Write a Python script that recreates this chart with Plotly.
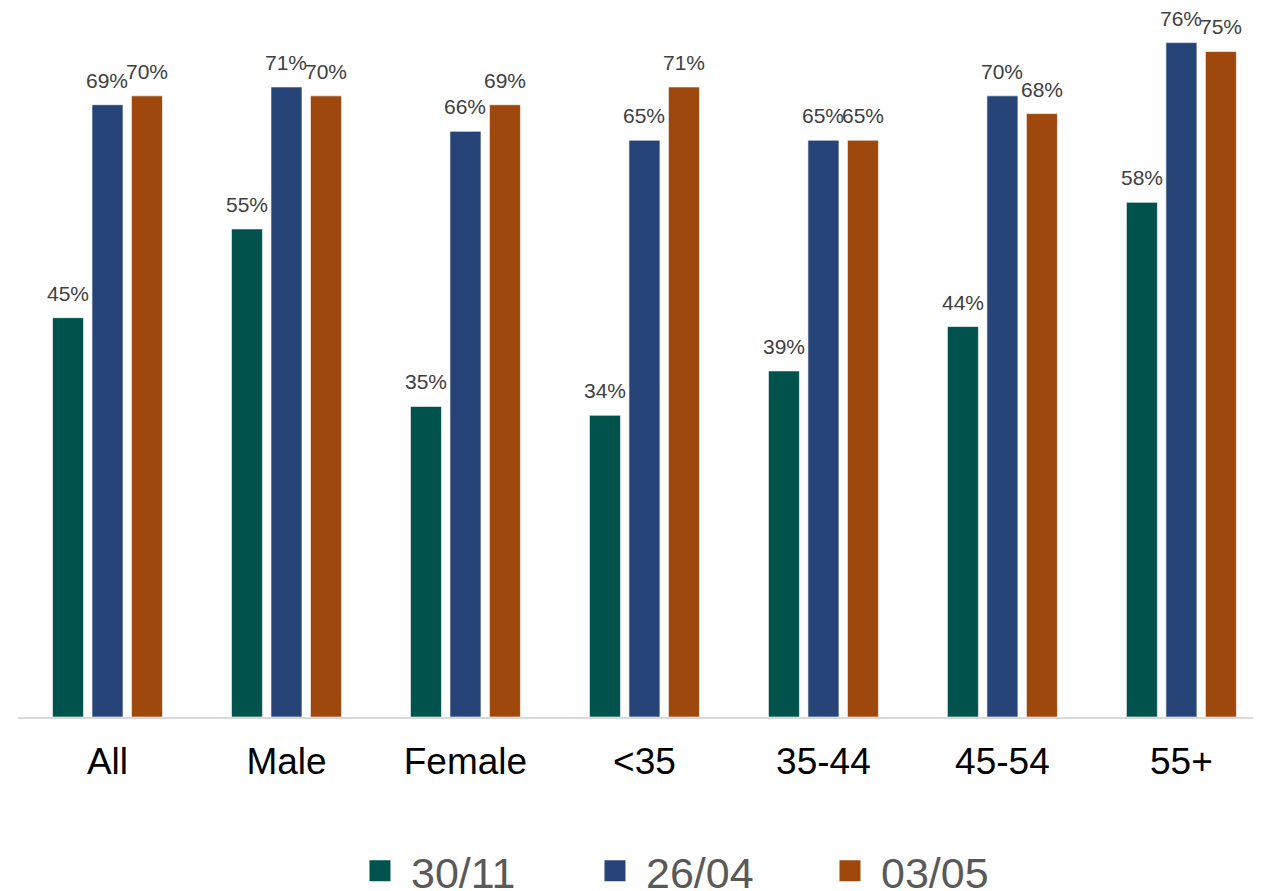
import plotly.graph_objects as go

categories = ["All", "Male", "Female", "<35", "35-44", "45-54", "55+"]
series_names = ["30/11", "26/04", "03/05"]
vals_3011 = [45, 55, 35, 34, 39, 44, 58]
vals_2604 = [69, 71, 66, 65, 65, 70, 76]
vals_0305 = [70, 70, 69, 71, 65, 68, 75]
colors = ["#00534C", "#264478", "#9E480E"]

FONT = "Liberation Sans, Arial, sans-serif"
SLOT_PX = 39.4  # pixel distance between bars in a group (styling)

fig = go.Figure()
all_series = [vals_3011, vals_2604, vals_0305]
for name, vals, col in zip(series_names, all_series, colors):
    fig.add_trace(go.Bar(
        x=categories, y=vals, name=name, showlegend=False, legendgroup=name,
        marker=dict(color=col, line=dict(color="rgba(255,255,255,0.6)", width=1)),
        hoverinfo="x+y",
    ))
# legend entries with larger square symbols
for name, col in zip(series_names, colors):
    fig.add_trace(go.Scatter(
        x=[None], y=[None], name=name, legendgroup=name, mode="markers",
        marker=dict(symbol="square", size=16, color=col, line=dict(color=col, width=5)),
    ))

annotations = []
for i, vals in enumerate(all_series):
    for cat, v in zip(categories, vals):
        annotations.append(dict(
            x=cat, y=v, xref="x", yref="y", text=f"{v}%", showarrow=False,
            xanchor="center", yanchor="bottom", xshift=(i - 1) * SLOT_PX, yshift=11,
            font=dict(family=FONT, size=21, color="#404040"),
        ))

fig.update_layout(
    width=1260, height=883,
    barmode="group", bargap=0.338, bargroupgap=0.215,
    paper_bgcolor="white", plot_bgcolor="white",
    margin=dict(l=10, r=15, t=0, b=174, autoexpand=False),
    font=dict(family=FONT),
    annotations=annotations,
    xaxis=dict(
        range=[-0.5, 6.4], showline=True, linecolor="#D9D9D9", linewidth=1.5,
        ticks="", showgrid=False, ticklabelstandoff=11,
        tickfont=dict(size=37, color="#000000"),
    ),
    yaxis=dict(range=[0, 79.9], visible=False, showgrid=False),
    legend=dict(
        orientation="h", x=0.268, xanchor="left", y=-0.217, yanchor="middle",
        font=dict(size=43, color="#595959"),
        itemwidth=52, entrywidth=168, entrywidthmode="pixels",
    ),
)

fig.write_html("out.html")
